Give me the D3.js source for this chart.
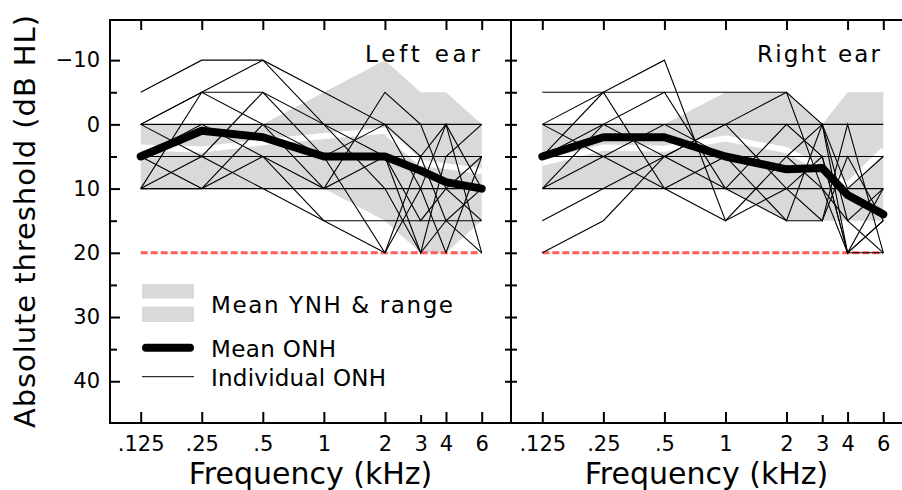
<!DOCTYPE html>
<html>
<head>
<meta charset="utf-8">
<script src="https://cdn.jsdelivr.net/npm/d3@7"></script>
<style>
  body { margin: 0; background: #fff; }
  svg { display: block; }
  text { font-family: "DejaVu Sans", "Liberation Sans", sans-serif; fill: #000; }
</style>
</head>
<body>
<svg id="chart" width="902" height="490"></svg>
<script>
// frequencies (kHz) and labels
const freqs = [0.125, 0.25, 0.5, 1, 2, 3, 4, 6];
const freqLabels = ['.125', '.25', '.5', '1', '2', '3', '4', '6'];
const yTicks = [-10, 0, 10, 20, 30, 40];
const yMinorTicks = [-5, 5, 15, 25, 35];
const criterion = 20;

// young normal-hearing (YNH) mean and range
const leftYnhMean = [3.6, 3.9, 2.8, 1.8, 1, 6, 6.5, 7.3];
const leftYnhLow = [0, 0, 0, -5, -10, -5, -5, 0];
const leftYnhHigh = [10, 10, 10, 10, 15, 20, 20, 15];
const rightYnhMean = [6, 3.6, 3.8, 2.2, 4, 7, 9.5, 4];
const rightYnhLow = [0, 0, 0, -5, -5, 0, -5, -5];
const rightYnhHigh = [10, 10, 10, 10, 15, 15, 15, 15];

// older normal-hearing (ONH) mean
const leftOnhMean = [5, 1, 2, 5, 5, 7.2, 9, 10];
const rightOnhMean = [5, 2, 2, 5, 7, 6.8, 11, 14];

// individual ONH listeners
const leftOnh = [
  [-5, -10, -10, -5, 0, 5, 0, 10],
  [0, -5, -10, 0, 5, 15, 10, 5],
  [0, 0, 0, 0, 0, 0, 0, 0],
  [5, 5, 5, 5, 5, 5, 5, 5],
  [10, 10, 10, 10, 10, 10, 10, 10],
  [10, -5, -5, 0, 10, 20, 15, 20],
  [5, 10, 5, 15, 15, 15, 15, 15],
  [10, 5, 10, 15, 20, 10, 20, 5],
  [0, -5, 0, 10, -5, 0, 10, 15],
  [5, 0, 5, 10, 5, 20, 5, 0],
  [10, 10, 0, 5, 0, 10, 0, 20],
  [0, 5, -5, 5, 20, 5, 15, 10]
];
const rightOnh = [
  [-5, -5, -10, 15, 10, 5, 20, 15],
  [0, -5, -5, -5, -5, 0, 15, 20],
  [0, 0, 0, 0, 0, 0, 0, 0],
  [5, 5, 5, 5, 5, 5, 5, 5],
  [10, 10, 10, 10, 10, 10, 10, 10],
  [15, 10, 5, 0, -5, 10, 20, 15],
  [20, 15, 5, 10, 15, 0, 20, 10],
  [5, -5, 10, 5, 15, 15, 0, 20],
  [0, 5, 10, 15, 5, 0, 10, 5],
  [10, 0, -5, 10, 0, 5, 20, 20],
  [5, 0, 5, 0, 10, 15, 5, 15],
  [10, 5, 0, 5, 5, 10, 15, 10]
];

const bandGray = '#d9d9d9';
const redDash = '#ff5c5c';
const plotTop = 20, plotBottom = 423;

const svg = d3.select('#chart');

const y = d3.scaleLinear().domain([-16.25, 46.5]).range([plotTop, plotBottom]);

const panels = [
  { title: 'Left ear', x0: 110, x1: 511, f0: 140.7, f1: 481.7, titleX: 365, titleW: 115,
    ynhMean: leftYnhMean, ynhLow: leftYnhLow, ynhHigh: leftYnhHigh,
    onhMean: leftOnhMean, onh: leftOnh },
  { title: 'Right ear', x0: 511, x1: 902, f0: 542.3, f1: 883.3, titleX: 757, titleW: 123,
    ynhMean: rightYnhMean, ynhLow: rightYnhLow, ynhHigh: rightYnhHigh,
    onhMean: rightOnhMean, onh: rightOnh }
];

function drawPanel(p, i) {
  const x = d3.scaleLog().base(2).domain([0.125, 6]).range([p.f0, p.f1]);
  const g = svg.append('g');

  const band = d3.area()
    .x((d, k) => x(freqs[k]))
    .y0((d, k) => y(p.ynhHigh[k]))
    .y1(d => y(d));
  const line = d3.line()
    .x((d, k) => x(freqs[k]))
    .y(d => y(d));

  g.append('path').datum(p.ynhLow).attr('d', band).attr('fill', bandGray);
  g.append('path').datum(p.ynhMean).attr('d', line)
    .attr('fill', 'none').attr('stroke', '#fff').attr('stroke-width', 6)
    .attr('stroke-linejoin', 'round');

  g.append('line')
    .attr('x1', x(0.125)).attr('x2', x(6))
    .attr('y1', y(criterion)).attr('y2', y(criterion))
    .attr('stroke', redDash).attr('stroke-width', 3).attr('stroke-dasharray', '7,3');

  g.selectAll('.ind').data(p.onh).join('path')
    .attr('class', 'ind')
    .attr('d', line)
    .attr('fill', 'none').attr('stroke', '#000').attr('stroke-width', 1.1);

  g.append('path').datum(p.onhMean).attr('d', line)
    .attr('fill', 'none').attr('stroke', '#000').attr('stroke-width', 8)
    .attr('stroke-linejoin', 'round').attr('stroke-linecap', 'round');

  // frequency axes
  const xb = g.append('g').attr('transform', `translate(0,${plotBottom})`)
    .call(d3.axisBottom(x).tickValues(freqs)
      .tickFormat((d, k) => freqLabels[k])
      .tickSizeInner(-11).tickSizeOuter(0).tickPadding(13));
  xb.select('.domain').remove();
  xb.selectAll('.tick line').attr('stroke-width', 2)
    .filter(d => d === 3).attr('y2', -8);
  xb.selectAll('.tick text').attr('font-size', 21).attr('font-family', null);

  const xt = g.append('g').attr('transform', `translate(0,${plotTop})`)
    .call(d3.axisTop(x).tickValues(freqs.filter(d => d !== 3))
      .tickFormat('').tickSizeInner(-10).tickSizeOuter(0));
  xt.select('.domain').remove();
  xt.selectAll('.tick line').attr('stroke-width', 2);

  // dB ticks on the shared divider
  if (i === 0) {
    const yr = g.append('g').attr('transform', `translate(${p.x1},0)`)
      .call(d3.axisRight(y).tickValues(yTicks.concat(yMinorTicks))
        .tickFormat('').tickSizeInner(-6).tickSizeOuter(0));
    yr.select('.domain').remove();
    yr.selectAll('.tick line').attr('stroke-width', 2);
  } else {
    const yl = g.append('g').attr('transform', `translate(${p.x0},0)`)
      .call(d3.axisLeft(y).tickValues(yTicks.concat(yMinorTicks))
        .tickFormat('').tickSizeInner(-6).tickSizeOuter(0));
    yl.select('.domain').remove();
    yl.selectAll('.tick line').attr('stroke-width', 2);
  }

  // frame
  const frame = g.append('g').attr('stroke', '#000').attr('stroke-width', 2);
  frame.append('line').attr('x1', p.x0).attr('x2', p.x1).attr('y1', plotTop).attr('y2', plotTop);
  frame.append('line').attr('x1', p.x0).attr('x2', p.x1).attr('y1', plotBottom).attr('y2', plotBottom);
  frame.append('line').attr('x1', p.x0).attr('x2', p.x0).attr('y1', plotTop - 1).attr('y2', plotBottom + 1);

  g.append('text')
    .attr('x', p.titleX).attr('y', 62)
    .attr('font-size', 23).attr('textLength', p.titleW).attr('lengthAdjust', 'spacing')
    .text(p.title);

  const cx = (p.x0 + p.x1) / 2;
  g.append('text')
    .attr('x', cx).attr('y', 484).attr('text-anchor', 'middle')
    .attr('font-size', 30)
    .text('Frequency (kHz)');
}

panels.forEach(drawPanel);

// left dB axis
const ya = svg.append('g').attr('transform', 'translate(110,0)')
  .call(d3.axisLeft(y).tickValues(yTicks).tickSizeInner(-10).tickSizeOuter(0).tickPadding(10));
ya.select('.domain').remove();
ya.selectAll('.tick line').attr('stroke-width', 2);
ya.selectAll('.tick text').attr('font-size', 21).attr('font-family', null);
const ym = svg.append('g').attr('transform', 'translate(110,0)')
  .call(d3.axisLeft(y).tickValues(yMinorTicks).tickFormat('').tickSizeInner(-7).tickSizeOuter(0));
ym.select('.domain').remove();
ym.selectAll('.tick line').attr('stroke-width', 2);

svg.append('text')
  .attr('transform', 'translate(35,428) rotate(-90)')
  .attr('font-size', 29).attr('textLength', 413).attr('lengthAdjust', 'spacing')
  .text('Absolute threshold (dB HL)');

// legend
const leg = svg.append('g');
leg.append('rect').attr('x', 142).attr('y', 284).attr('width', 52).attr('height', 38)
  .attr('fill', bandGray);
leg.append('line').attr('x1', 142).attr('x2', 194).attr('y1', 302.5).attr('y2', 302.5)
  .attr('stroke', '#fff').attr('stroke-width', 8);
leg.append('line').attr('x1', 146).attr('x2', 190).attr('y1', 347.7).attr('y2', 347.7)
  .attr('stroke', '#000').attr('stroke-width', 8).attr('stroke-linecap', 'round');
leg.append('line').attr('x1', 142).attr('x2', 194).attr('y1', 376.7).attr('y2', 376.7)
  .attr('stroke', '#000').attr('stroke-width', 1);
const legendItems = [
  { label: 'Mean YNH & range', y: 312.5, w: 242 },
  { label: 'Mean ONH', y: 357, w: 125 },
  { label: 'Individual ONH', y: 386, w: 175 }
];
leg.selectAll('.lt').data(legendItems).join('text')
  .attr('class', 'lt')
  .attr('x', 211).attr('y', d => d.y)
  .attr('font-size', 23).attr('textLength', d => d.w).attr('lengthAdjust', 'spacing')
  .text(d => d.label);
</script>
</body>
</html>
